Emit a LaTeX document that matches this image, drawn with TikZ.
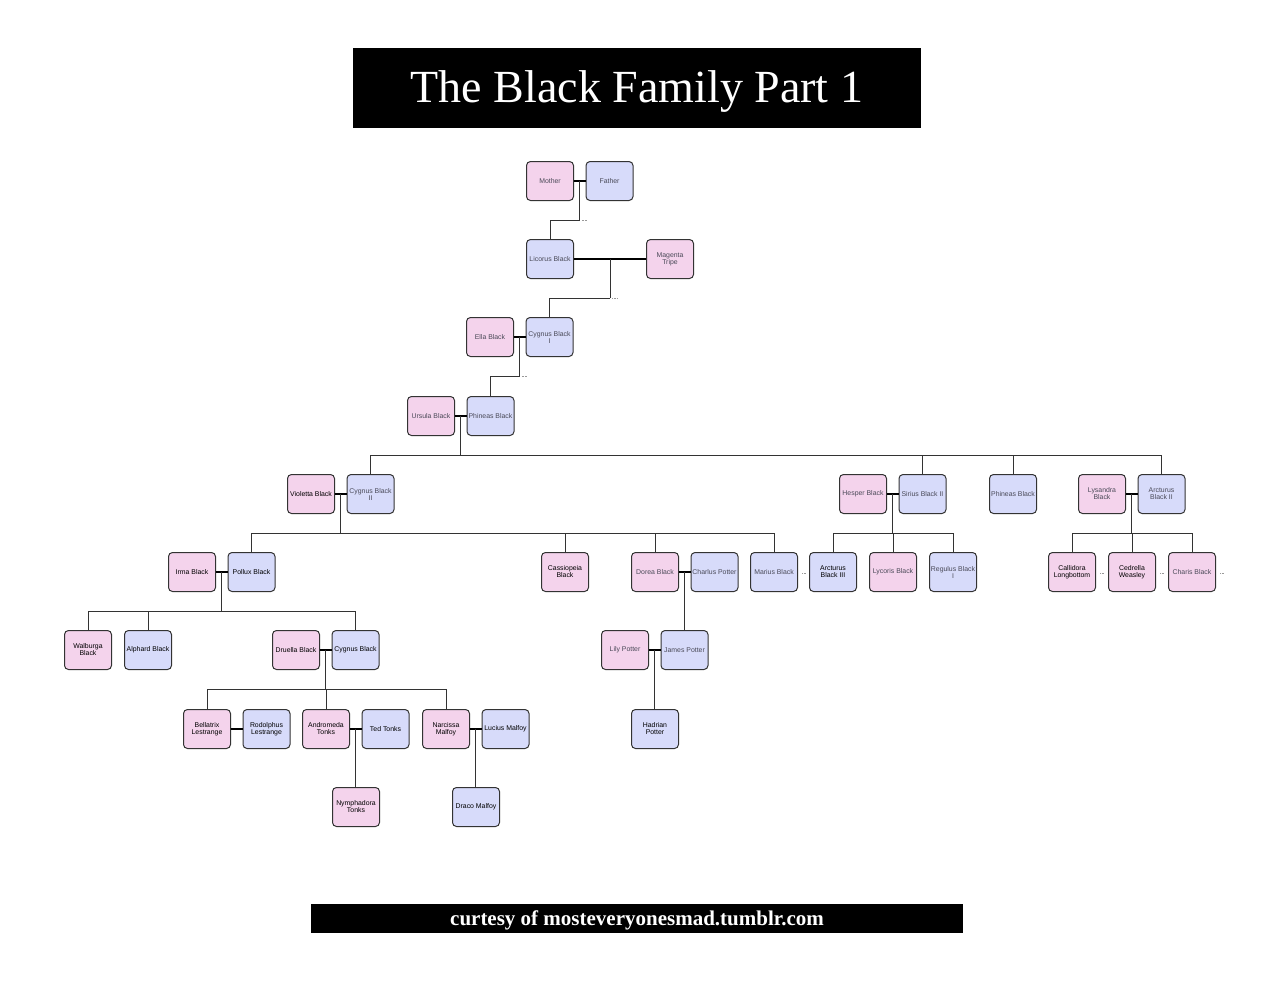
\documentclass[tikz,border=0pt]{standalone}
\usepackage{fontspec}
\setmainfont{Liberation Serif}
\setsansfont{Liberation Sans}
\usepackage{tikz}
\usetikzlibrary{calc}
\definecolor{herpink}{HTML}{F4D3EC}
\definecolor{himblue}{HTML}{D7DBFA}
\definecolor{dimtext}{HTML}{4A4A58}
\begin{document}
\begin{tikzpicture}[x=1pt,y=-1pt,node distance=59.5pt,
  person/.style={draw=black!80,rounded corners=4pt,line width=1pt,minimum width=47pt,minimum height=39pt,inner sep=1pt,align=center,font=\sffamily\fontsize{6.9}{7}\selectfont,text=black},
  her/.style={person,fill=herpink},
  him/.style={person,fill=himblue},
  dim/.style={text=dimtext},
  wed/.style={line width=1.6pt},
  kin/.style={line width=.8pt,draw=black!80},
  stub/.style={densely dotted,line width=.5pt,draw=black!40}]%
\useasboundingbox (0,0) rectangle (1280,989);
\draw node [fill=black,minimum width=568pt,minimum height=80pt,inner sep=0pt,text depth=3pt,text=white,font=\fontsize{46}{50}\selectfont] (title) at (637,88) {The Black Family Part 1};
\draw node [fill=black,minimum width=652pt,minimum height=29pt,inner sep=0pt,text depth=0pt,text=white,font=\bfseries\fontsize{21}{24}\selectfont] (credit) at (637,918.5) {curtesy of mosteveryonesmad.tumblr.com};
% generations
\draw node [her,dim] (Mother) at (550,181) {Mother};
\draw node [him,dim] [right of=Mother] (Father) {Father};
\draw node [him,dim] (Licorus) at (550,259) {Licorus Black};
\draw node [her,dim] (Magenta) at (670,259) {Magenta\\Tripe};
\draw node [her,dim] (Ella) at (490,337) {Ella Black};
\draw node [him,dim] [right of=Ella] (CygnusI) {Cygnus Black\\I};
\draw node [her,dim] (Ursula) at (431,416) {Ursula Black};
\draw node [him,dim] [right of=Ursula] (Phineas) {Phineas Black};
\draw node [her] (Violetta) at (311,494) {Violetta Black};
\draw node [him,dim] [right of=Violetta] (CygnusII) {Cygnus Black\\II};
\draw node [her,dim] (Hesper) at (863,494) {Hesper Black};
\draw node [him,dim] [right of=Hesper] (SiriusII) {Sirius Black II};
\draw node [him,dim] (PhineasB) at (1013,494) {Phineas Black};
\draw node [her,dim] (Lysandra) at (1102,494) {Lysandra\\Black};
\draw node [him,dim] [right of=Lysandra] (ArcturusII) {Arcturus\\Black II};
\draw node [her] (Irma) at (192,572) {Irma Black};
\draw node [him] [right of=Irma] (Pollux) {Pollux Black};
\draw node [her] (Cassiopeia) at (565,572) {Cassiopeia\\Black};
\draw node [her,dim] (Dorea) at (655,572) {Dorea Black};
\draw node [him,dim] [right of=Dorea] (Charlus) {Charlus Potter};
\draw node [him,dim] (Marius) at (774,572) {Marius Black};
\draw node [him] (ArcturusIII) at (833,572) {Arcturus\\Black III};
\draw node [her,dim] (Lycoris) at (893,572) {Lycoris Black};
\draw node [him,dim] (Regulus) at (953,572) {Regulus Black\\I};
\draw node [her] (Callidora) at (1072,572) {Callidora\\Longbottom};
\draw node [her] (Cedrella) at (1132,572) {Cedrella\\Weasley};
\draw node [her,dim] (Charis) at (1192,572) {Charis Black};
\draw node [her] (Walburga) at (88,650) {Walburga\\Black};
\draw node [him] (Alphard) at (148,650) {Alphard Black};
\draw node [her] (Druella) at (296,650) {Druella Black};
\draw node [him] [right of=Druella] (CygnusIII) {Cygnus Black};
\draw node [her,dim] (Lily) at (625,650) {Lily Potter};
\draw node [him,dim] [right of=Lily] (James) {James Potter};
\draw node [her] (Bellatrix) at (207,729) {Bellatrix\\Lestrange};
\draw node [him] [right of=Bellatrix] (Rodolphus) {Rodolphus\\Lestrange};
\draw node [her] (Andromeda) at (326,729) {Andromeda\\Tonks};
\draw node [him] [right of=Andromeda] (Ted) {Ted Tonks};
\draw node [her] (Narcissa) at (446,729) {Narcissa\\Malfoy};
\draw node [him] [right of=Narcissa] (Lucius) {Lucius Malfoy};
\draw node [him] (Hadrian) at (655,729) {Hadrian\\Potter};
\draw node [her] (Nymphadora) at (356,807) {Nymphadora\\Tonks};
\draw node [him] (Draco) at (476,807) {Draco Malfoy};
% marriages
\foreach \a/\b in {Mother/Father,Licorus/Magenta,Ella/CygnusI,Ursula/Phineas,Violetta/CygnusII,Hesper/SiriusII,Lysandra/ArcturusII,Irma/Pollux,Dorea/Charlus,Druella/CygnusIII,Lily/James,Bellatrix/Rodolphus,Andromeda/Ted,Narcissa/Lucius}
  \draw [wed] (\a) -- (\b);
% children hang from a bus 39 below the couple
\foreach \a/\b/\n/\kids in {Mother/Father/b1/{Licorus},Licorus/Magenta/b2/{CygnusI},Ella/CygnusI/b3/{Phineas},Ursula/Phineas/b4/{CygnusII,SiriusII,PhineasB,ArcturusII},Violetta/CygnusII/b5/{Pollux,Cassiopeia,Dorea,Marius},Hesper/SiriusII/b6/{ArcturusIII,Lycoris,Regulus},Lysandra/ArcturusII/b7/{Callidora,Cedrella,Charis},Irma/Pollux/b8/{Walburga,Alphard,CygnusIII},Druella/CygnusIII/b9/{Bellatrix,Andromeda,Narcissa}}{
  \draw [kin] ($(\a)!.5!(\b)$) -- ++(0,39) coordinate (\n);
  \foreach \c in \kids
    \draw [kin] (\n) -| (\c.north);
}
\foreach \a/\b/\c in {Dorea/Charlus/James,Lily/James/Hadrian,Andromeda/Ted/Nymphadora,Narcissa/Lucius/Draco}
  \draw [kin] ($(\a)!.5!(\b)$) coordinate (m) -- (m |- \c.north);
% loose ends
\foreach \n in {b1,b2,b3}
  \draw [stub] (\n) ++(2,0) -- ++(5,0);
\foreach \c in {Marius,Callidora,Cedrella,Charis}
  \draw [stub] (\c.east) ++(4,1) -- ++(4,0);
\end{tikzpicture}
\end{document}
